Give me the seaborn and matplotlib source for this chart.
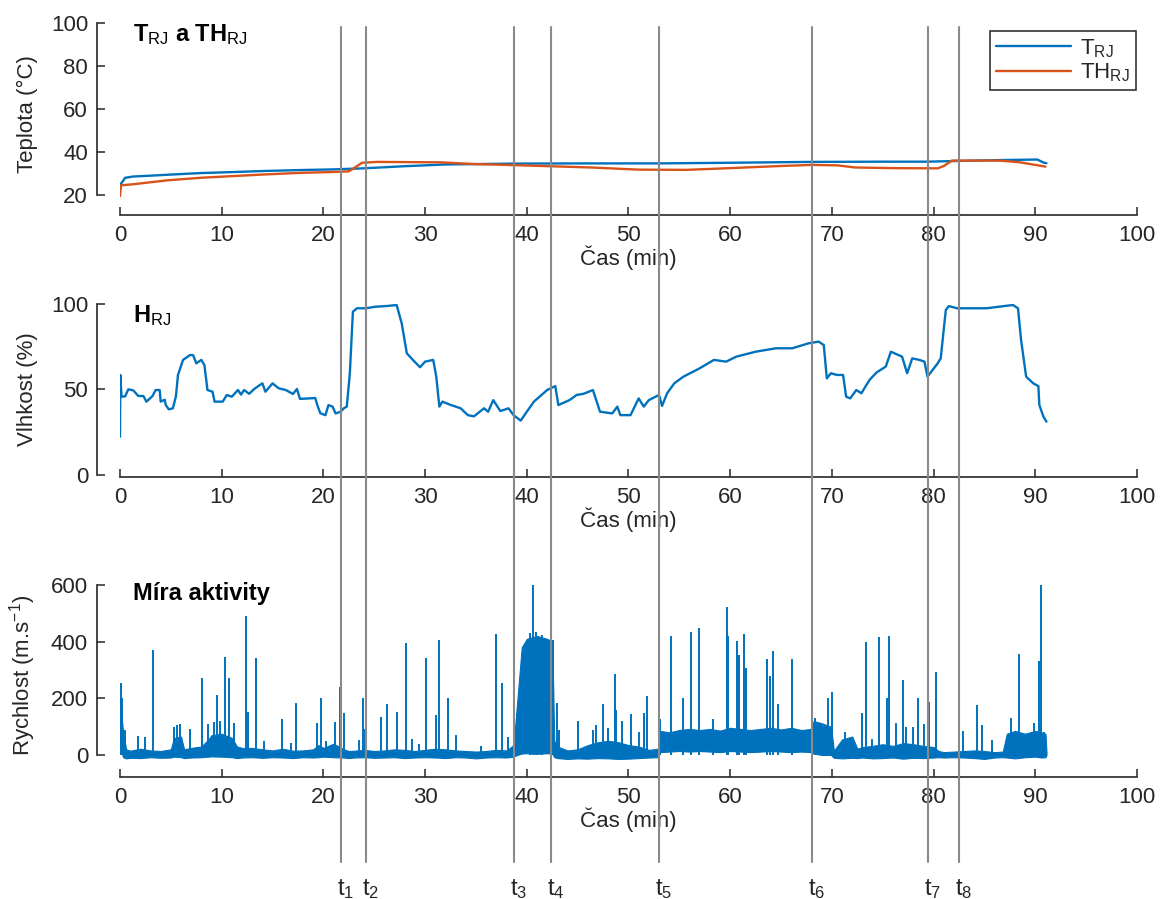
import numpy as np
import pandas as pd
import seaborn as sns
import matplotlib
matplotlib.use("Agg")
import matplotlib.pyplot as plt
from matplotlib.lines import Line2D
from matplotlib.transforms import blended_transform_factory, offset_copy

# ---------------- data ----------------
# Temperature of the body (T_RJ) and of the head (TH_RJ), °C
temp_rj_time = [0.0, 0.3, 0.5, 1.3, 3, 5, 7.9, 10, 14.4, 17.7, 20.9, 23.9, 28, 32,
                38.7, 45, 53, 60, 68, 75, 79.4, 82, 86, 90.2, 90.8, 91.1]
temp_rj = [24.7, 26.5, 28.0, 28.6, 29.0, 29.5, 30.2, 30.5, 31.2, 31.6, 31.9, 32.4, 33.4, 34.2,
           34.6, 34.7, 34.7, 35.0, 35.4, 35.5, 35.5, 35.8, 36.2, 36.5, 35.1, 34.8]

temp_th_time = [0.0, 0.1, 1.3, 4.6, 7.9, 11.1, 14.4, 17.7, 20.9, 22.5, 23.0, 23.8, 25.3,
                28.2, 31.5, 34.8, 38, 41.5, 46.3, 51, 55.7, 60.5, 65, 68, 70.5, 72.3,
                76, 80.4, 81.0, 81.8, 86.5, 88.5, 91.0]
temp_th = [19.5, 24.5, 25.0, 26.8, 28.0, 28.8, 29.6, 30.3, 30.7, 31.0, 32.5, 35.0, 35.4,
           35.3, 35.2, 34.4, 34.0, 33.5, 32.8, 31.8, 31.7, 32.6, 33.5, 34.0, 33.8, 32.8,
           32.5, 32.4, 33.5, 36.0, 36.0, 35.2, 33.2]

# Relative humidity H_RJ, %
hum_time = [0.0, 0.03, 0.15, 0.5, 0.82, 1.3, 1.8, 2.3, 2.6, 3.2, 3.5, 3.9, 4.0, 4.4, 4.5,
            4.8, 5.2, 5.5, 5.7, 6.2, 6.9, 7.2, 7.5, 8.0, 8.3, 8.6, 9.1, 9.3, 10.1, 10.5,
            11.0, 11.6, 11.9, 12.2, 12.7, 13.2, 13.6, 14.0, 14.3, 15.0, 15.6, 16.3, 17.0,
            17.4, 17.7, 19.2, 19.4, 19.7, 20.2, 20.5, 20.9, 21.2, 21.7, 22.0, 22.3, 22.6,
            22.9, 23.3, 24.2, 25.1, 26.2, 27.2, 27.7, 28.2, 28.8, 29.5, 30.0, 30.8, 31.1,
            31.4, 31.7, 32.5, 33.5, 34.2, 34.8, 35.8, 36.2, 36.7, 37.4, 38.2, 38.7, 39.4,
            40.0, 40.7, 41.3, 42.0, 42.8, 43.1, 44.2, 44.9, 45.6, 46.5, 47.2, 48.4, 48.9,
            49.2, 50.2, 51.0, 51.5, 52.0, 53.0, 53.3, 53.8, 54.5, 55.4, 57.0, 58.4, 59.6,
            60.6, 62.5, 64.5, 66.1, 67.7, 68.7, 69.2, 69.5, 69.9, 70.5, 71.1, 71.4, 71.8,
            72.4, 72.9, 73.7, 74.4, 75.3, 75.8, 76.9, 77.4, 77.9, 78.6, 79.1, 79.4, 80.4,
            80.7, 81.2, 81.5, 82.3, 85.2, 87.8, 88.3, 88.6, 89.1, 89.8, 90.3, 90.4, 90.8,
            91.1]
hum = [22.4, 58.5, 45.8, 46.0, 50.1, 49.5, 46.2, 46.2, 42.9, 46.2, 49.7, 49.7, 42.9, 44.0, 40.9,
       38.4, 39.0, 46.0, 58.5, 67.3, 70.2, 70.0, 65.3, 67.3, 64.3, 49.7, 48.7, 42.9, 42.9, 46.8,
       45.8, 49.7, 47.0, 49.7, 47.5, 50.3, 52.0, 53.6, 48.7, 53.6, 50.7, 49.7, 47.4,
       50.3, 44.5, 45.0, 40.9, 36.1, 35.0, 40.9, 40.0, 36.0, 37.0, 39.0, 40.0, 59.5,
       95.5, 97.5, 97.5, 98.4, 98.8, 99.4, 88.7, 71.2, 67.3, 63.0, 66.3, 67.3, 57.5,
       40.0, 42.9, 41.0, 39.0, 35.0, 34.3, 39.0, 37.0, 43.8, 37.4, 39.0, 35.0, 31.8,
       37.0, 42.9, 46.0, 49.7, 52.0, 40.9, 43.8, 46.8, 47.5, 49.7, 37.0, 36.0, 40.0,
       35.0, 35.0, 44.8, 40.0, 43.8, 46.8, 40.4, 47.8, 53.6, 57.5, 62.4, 67.3, 66.3,
       69.2, 72.1, 74.1, 74.1, 77.0, 78.0, 76.0, 56.5, 59.5, 58.5, 58.5, 45.8, 44.8,
       49.7, 47.8, 55.6, 60.0, 63.4, 72.1, 69.2, 59.5, 68.2, 67.3, 66.3, 57.5, 65.3,
       68.2, 96.5, 98.8, 97.5, 97.5, 99.4, 97.5, 79.0, 57.5, 53.6, 52.0, 40.9, 34.1,
       31.2]

# Activity (speed, m.s-1): continuous noise band (low / high edge) ...
act_time = [
    0.0, 0.3, 0.6, 1, 2, 3, 4, 5, 5.3, 6.0,
    6.3, 7, 8, 8.7, 9, 10, 11, 11.5, 12, 13,
    14, 15, 16, 17, 18, 19, 19.5, 20, 21, 22,
    22.5, 23, 24, 25, 26, 27, 28, 29, 30, 31,
    32, 33, 34, 35, 36, 37, 38, 38.7, 38.9, 39.5,
    40, 41, 42, 42.5, 42.7, 43, 44, 45, 46, 47,
    48, 49, 50, 51, 52, 52.9, 53.1, 54, 55, 56,
    57, 58, 59, 60, 61, 62, 63, 64, 65, 66,
    67, 68, 68.2, 69, 69.9, 70.2, 71, 72, 72.5, 73,
    74, 75, 76, 77, 78, 79, 80, 80.5, 81, 82,
    83, 84, 85, 86, 86.8, 87.2, 88, 89, 90, 90.6,
    91.0, 91.1]
act_high = [
    200, 80, 20, 15, 22, 16, 14, 20, 60, 65,
    20, 25, 30, 55, 70, 75, 60, 30, 25, 25,
    20, 16, 22, 15, 16, 20, 35, 25, 40, 20,
    14, 15, 18, 14, 16, 20, 18, 14, 18, 22,
    20, 16, 14, 12, 14, 18, 16, 35, 120, 380,
    410, 420, 410, 400, 50, 30, 16, 20, 35, 45,
    50, 45, 35, 30, 18, 22, 85, 80, 88, 92,
    88, 92, 86, 96, 92, 88, 92, 96, 90, 96,
    88, 92, 120, 112, 100, 15, 55, 65, 22, 28,
    32, 38, 32, 42, 38, 32, 28, 14, 10, 12,
    14, 16, 14, 10, 12, 75, 85, 75, 85, 80,
    75, 10]
act_low = [
    30, -8, -12, -10, -11, -8, -10, -9, -6, -8,
    -11, -9, -8, -6, -5, -6, -8, -11, -9, -8,
    -10, -8, -9, -11, -8, -9, -8, -6, -8, -9,
    -11, -9, -8, -10, -9, -8, -11, -9, -8, -9,
    -11, -8, -9, -12, -9, -8, -9, -6, -2, 5,
    6, 4, 6, 5, -8, -11, -14, -12, -13, -11,
    -12, -14, -13, -11, -9, -8, 10, 12, 14, 12,
    14, 12, 10, 14, 12, 10, 12, 14, 12, 10,
    12, 10, 5, 0, 0, -10, -12, -10, -11, -9,
    -12, -11, -9, -13, -10, -11, -9, -8, -9, -8,
    -9, -11, -14, -9, -8, -9, -12, -8, -6, -9,
    -8, 0]

# ... and short bursts (peaks)
peak_time = [0.05, 0.15, 0.5, 1.8, 2.5, 3.2, 5.3, 5.6, 5.9, 6.9,
             8.1, 8.7, 9.2, 9.5, 9.8, 10.3, 10.7, 11.2, 12.4, 12.6,
             13.4, 14.2, 15.9, 16.8, 17.3, 19.4, 19.8, 20.3, 21.1, 21.6,
             22.0, 23.5, 23.9, 24.1, 25.7, 26.3, 27.2, 28.1, 28.7, 29.4,
             30.1, 31.1, 31.4, 32.3, 33.0, 35.5, 37.0, 37.6, 38.2, 39.0,
             40.3, 40.6, 40.9, 41.5, 42.6, 43.0, 43.2, 45.0, 46.5, 46.8,
             47.5, 48.0, 48.7, 48.8, 49.4, 50.2, 51.0, 51.5, 51.8, 53.1,
             54.2, 55.4, 56.1, 56.9, 58.3, 59.7, 59.8, 60.7, 60.9, 61.4,
             61.6, 63.6, 63.9, 64.2, 64.7, 66.1, 68.3, 69.6, 70.0, 71.3,
             73.0, 73.4, 73.9, 74.6, 75.4, 75.6, 76.3, 77.0, 77.3, 78.0,
             78.5, 79.1, 79.5, 80.2, 82.9, 84.3, 84.8, 85.7, 87.6, 88.4,
             89.9, 90.4, 90.6, 90.9]
peak_value = [253, 200, 88, 68, 62, 370, 100, 105, 110, 90,
              270, 110, 115, 212, 120, 345, 270, 112, 490, 150,
              341, 50, 127, 41, 182, 112, 200, 50, 118, 241,
              147, 53, 200, 90, 135, 180, 153, 394, 55, 39,
              341, 140, 406, 202, 69, 30, 427, 253, 63, 147,
              430, 603, 435, 425, 406, 182, 88, 121, 88, 106,
              180, 94, 286, 160, 121, 145, 82, 148, 208, 126,
              421, 200, 435, 447, 126, 521, 420, 403, 353, 427,
              306, 339, 277, 367, 180, 338, 130, 200, 224, 82,
              147, 400, 55, 418, 200, 421, 112, 265, 100, 98,
              200, 110, 188, 292, 83, 176, 106, 53, 130, 356,
              112, 330, 603, 82]

# Event times t1..t8 (min)
event_time = [21.73, 24.19, 38.74, 42.38, 53.0, 68.04, 79.45, 82.5]
event_label = [r"$\mathrm{t}_{\mathrm{%d}}$" % (i + 1) for i in range(len(event_time))]

x_ticks = list(range(0, 101, 10))

# ---------------- style ----------------
sns.set_theme(style="ticks")
plt.rcParams["font.family"] = ["Liberation Sans", "DejaVu Sans"]
plt.rcParams.update({
    "mathtext.fontset": "custom",
    "mathtext.rm": "Liberation Sans",
    "mathtext.bf": "Liberation Sans:bold",
    "mathtext.it": "Liberation Sans:italic",
    "mathtext.sf": "Liberation Sans",
    "axes.edgecolor": "#262626",
    "axes.linewidth": 1.2,
})

BLUE = "#0072BD"
ORANGE = "#D95319"
INK = "#262626"
FS = 16
TITLE_FS = 17

fig = plt.figure(figsize=(11.6, 8.99), dpi=100)
ax_t = fig.add_axes([0.10345, 0.77113, 0.87672, 0.20328])
ax_h = fig.add_axes([0.10345, 0.47164, 0.87672, 0.19021])
ax_a = fig.add_axes([0.10345, 0.14761, 0.87672, 0.20167])


def style_axis(ax, ylim, yticks, ylabel, bottom_offset):
    ax.set_facecolor("none")
    ax.set_xlim(0, 100)
    ax.set_ylim(*ylim)
    ax.set_xticks(x_ticks)
    ax.set_yticks(yticks)
    for side in ("top", "right"):
        ax.spines[side].set_visible(False)
    ax.spines["left"].set_position(("outward", 16.5))
    ax.spines["left"].set_bounds(yticks[0], yticks[-1])
    ax.spines["bottom"].set_position(("outward", bottom_offset))
    ax.tick_params(direction="in", length=6, width=1.1, color=INK,
                   labelcolor=INK, labelsize=FS)
    ax.tick_params(axis="x", pad=7)
    ax.tick_params(axis="y", pad=6.5)
    ax.set_xlabel("Čas (min)", fontsize=FS, color=INK, labelpad=0)
    ax.set_ylabel(ylabel, fontsize=FS, color=INK)
    ax.yaxis.set_label_coords(-0.0806, 0.5)
    ax.grid(False)


# --- temperature panel ---
df_t = pd.DataFrame({"time": temp_rj_time, "value": temp_rj})
df_th = pd.DataFrame({"time": temp_th_time, "value": temp_th})
sns.lineplot(data=df_t, x="time", y="value", ax=ax_t, color=BLUE, lw=1.7,
             label=r"$\mathrm{T}_{\mathrm{RJ}}$")
sns.lineplot(data=df_th, x="time", y="value", ax=ax_t, color=ORANGE, lw=1.7,
             label=r"$\mathrm{TH}_{\mathrm{RJ}}$")
style_axis(ax_t, (15, 100), [20, 40, 60, 80, 100], "Teplota (°C)", 6.7)
leg = ax_t.legend(loc="upper right", bbox_to_anchor=(1.003, 0.978), frameon=True,
                  fancybox=False, edgecolor="black", handlelength=3.4,
                  fontsize=16, borderpad=0.25, labelspacing=0.1, handletextpad=0.4,
                  borderaxespad=0.2)
leg.get_frame().set_linewidth(1.2)
ax_t.text(0.0128, 1.005, r"$\mathbf{T}_{\mathrm{RJ}}\mathbf{\ a\ TH}_{\mathrm{RJ}}$",
          transform=ax_t.transAxes, ha="left", va="top", fontsize=TITLE_FS, color="black")

# --- humidity panel ---
df_h = pd.DataFrame({"time": hum_time, "value": hum})
sns.lineplot(data=df_h, x="time", y="value", ax=ax_h, color=BLUE, lw=1.7, legend=False)
style_axis(ax_h, (0, 100), [0, 50, 100], "Vlhkost (%)", 1.5)
ax_h.text(0.0128, 1.005, r"$\mathbf{H}_{\mathrm{RJ}}$", transform=ax_h.transAxes,
          ha="left", va="top", fontsize=TITLE_FS, color="black")

# --- activity panel ---
ax_a.fill_between(act_time, act_low, act_high, color=BLUE, lw=0.8, edgecolor=BLUE)
ax_a.vlines(peak_time, 0, peak_value, color=BLUE, lw=1.4)
style_axis(ax_a, (-40, 600), [0, 200, 400, 600], r"Rychlost (m.s$^{\mathrm{-1}}$)", 7.7)
ax_a.text(0.0128, 1.015, "Míra aktivity", transform=ax_a.transAxes, ha="left", va="top",
          fontsize=TITLE_FS, fontweight="bold", color="black")

# --- event markers spanning all panels ---
blend = blended_transform_factory(ax_a.transData, fig.transFigure)
label_tr = offset_copy(blend, fig=fig, x=-4, y=0, units="dots")
for t, lab in zip(event_time, event_label):
    fig.add_artist(Line2D([t, t], [0.0412, 0.9700], transform=blend,
                          color="#8a8a8a", lw=1.5, zorder=5))
    fig.text(t, 0.0045, lab, transform=label_tr, ha="left", va="baseline",
             fontsize=17, color=INK)

fig.savefig("out.png", dpi=100)
